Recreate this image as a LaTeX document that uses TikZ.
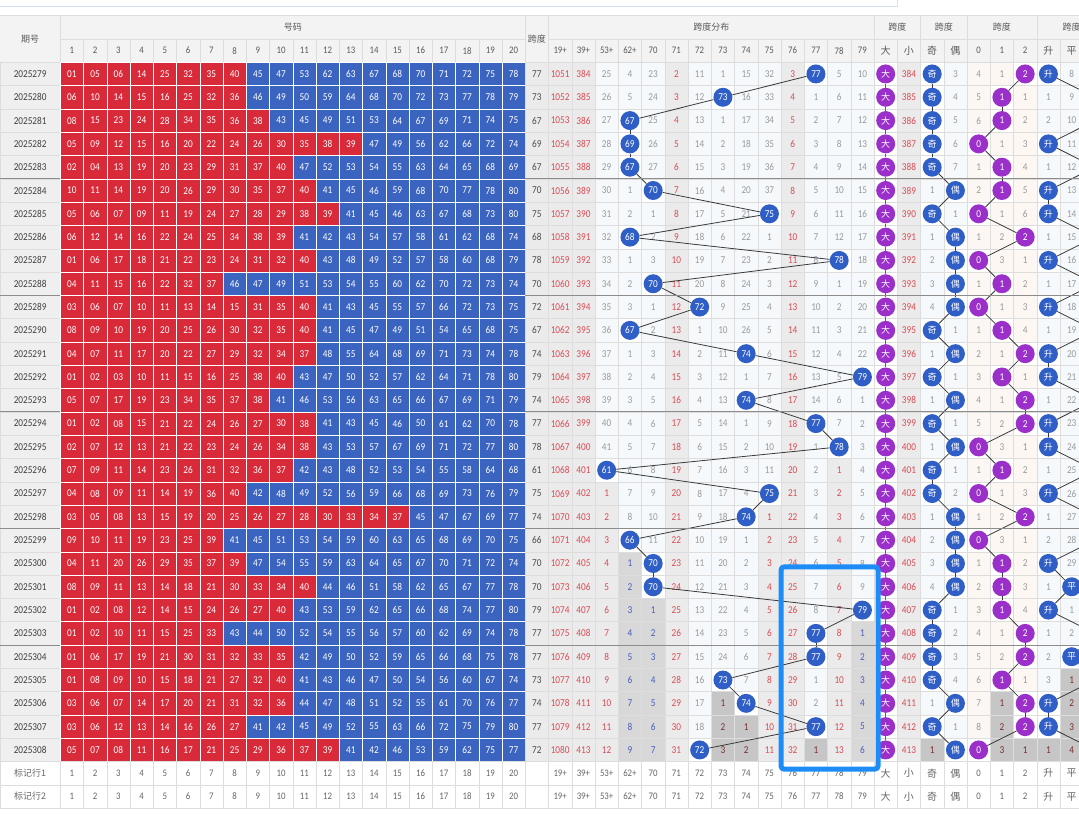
\documentclass[tikz,border=0pt]{standalone}
\usepackage{fontspec}
\setmainfont{Carlito}[FakeStretch=0.88]
\newfontfamily\cjk{Noto Sans CJK SC}
\usepackage{tikz}
\usetikzlibrary{positioning}

\definecolor{lored}{HTML}{D92A3A}
\definecolor{hiblue}{HTML}{3B64C0}
\definecolor{ballblue}{HTML}{2E5EC6}
\definecolor{ballpurple}{HTML}{9A2FC9}
\definecolor{hottext}{HTML}{DB4B55}
\definecolor{hotbg}{HTML}{EBEBEB}
\definecolor{cooltext}{HTML}{4A5CC0}
\definecolor{coolbg}{HTML}{D8D8D8}
\definecolor{deeptext}{HTML}{7A2E2E}
\definecolor{deepbg}{HTML}{C6C6C6}
\definecolor{plaintext}{HTML}{9A9A9A}
\definecolor{plainbg}{HTML}{F6F9FC}
\definecolor{warmbg}{HTML}{FDF7F3}
\definecolor{gridline}{HTML}{DDDDDD}
\definecolor{headbg}{HTML}{F3F3F3}
\definecolor{headtext}{HTML}{5A5A5A}
\definecolor{perbg}{HTML}{EFEFEF}
\definecolor{sepline}{HTML}{8C8C8C}
\definecolor{frameblue}{HTML}{1E8CF7}
\definecolor{topline}{HTML}{D3E2EE}
\definecolor{linkgray}{HTML}{3A3A3A}

\tikzset{
  cell/.style={rectangle, minimum width=23.25pt, minimum height=23.31pt, inner sep=0pt, outer sep=0pt,
    draw=gridline, line width=0.5pt, font=\fontsize{10.5}{10.5}\selectfont},
  numlo/.style={cell, fill=lored, draw=white, text=white},
  numhi/.style={cell, fill=hiblue, draw=white, text=white},
  misplain/.style={cell, fill=plainbg, text=plaintext},
  miswarm/.style={cell, fill=warmbg, text=plaintext},
  mishot/.style={cell, fill=hotbg, text=hottext},
  miscool/.style={cell, fill=coolbg, text=cooltext},
  misdeep/.style={cell, fill=deepbg, text=deeptext},
  hitcell/.style={cell, fill=white},
  kdcell/.style={cell, fill=hotbg, text=black!70},
  percell/.style={cell, minimum width=60.3pt, fill=perbg, text=black!75},
  footcell/.style={cell, fill=white, text=black!60, font=\fontsize{10}{10}\selectfont},
  headtxt/.style={text=headtext, inner sep=0pt, font=\fontsize{10}{10}\selectfont},
  ballb/.style={circle, fill=ballblue, text=white, minimum size=19pt, inner sep=0pt,
    font=\fontsize{10.5}{10.5}\selectfont},
  ballp/.style={ballb, fill=ballpurple},
  linkline/.style={draw=linkgray, line width=0.8pt},
  plinkline/.style={draw=ballpurple, line width=0.8pt}
}

\def\sublist{22/19+,23/39+,24/53+,25/62+,26/70,27/71,28/72,29/73,30/74,31/75,32/76,33/77,34/78,35/79,
  36/{\cjk 大},37/{\cjk 小},38/{\cjk 奇},39/{\cjk 偶},40/0,41/1,42/2,43/{\cjk 升},44/{\cjk 平}}

\begin{document}
\begin{tikzpicture}[x=1pt,y=-1pt]
  \useasboundingbox (0,0) rectangle (1079,814);
  \clip (0,0) rectangle (1079,814);
  \fill[white] (0,0) rectangle (1079,814);
  \draw[topline, line width=1pt] (0,6) -- (897,6) -- (897,-2);

  \begin{scope}[shift={(60.3,62.3)}, x=23.25pt, y=-23.31pt]
    \fill[headbg] (-2.594,-2) rectangle (45,0);
    \draw[gridline] (-2.594,-2) -- (45,-2) (0,-1) -- (20,-1) (21,-1) -- (45,-1) (-2.594,0) -- (45,0);
    \foreach \x in {0,20,21,35,37,39,42} \draw[gridline] (\x,-2) -- (\x,0);
    \foreach \x in {1,...,44} \draw[gridline] (\x,-1) -- (\x,0);

    \node[headtxt, font=\cjk\fontsize{9}{9}\selectfont] (h0) at (-1.297,-1) {期号};
    \node[headtxt, font=\cjk\fontsize{9}{9}\selectfont] (hnum) at (10,-1.5) {号码};
    \node[headtxt, font=\cjk\fontsize{9}{9}\selectfont] (hkd) at (20.5,-1) {跨度};
    \node[headtxt, font=\cjk\fontsize{9}{9}\selectfont] (hdist) at (28,-1.5) {跨度分布};
    \foreach \x [count=\i] in {36,38,40.5,43.5}
      \node[headtxt, font=\cjk\fontsize{9}{9}\selectfont] (hg\i) at (\x,-1.5) {跨度};
    \foreach \k in {1,...,20} \node[headtxt] (h\k) at (\k-0.5,-0.5) {\k};
    \foreach \k/\t in \sublist \node[headtxt] (h\k) at (\k-0.5,-0.5) {\t};

    \foreach \row [count=\r] in {
      {01,05,06,14,25,32,35,40,45,47,53,62,63,67,68,70,71,72,75,78},
      {06,10,14,15,16,25,32,36,46,49,50,59,64,68,70,72,73,77,78,79},
      {08,15,23,24,28,34,35,36,38,43,45,49,51,53,64,67,69,71,74,75},
      {05,09,12,15,16,20,22,24,26,30,35,38,39,47,49,56,62,66,72,74},
      {02,04,13,19,20,23,29,31,37,40,47,52,53,54,55,63,64,65,68,69},
      {10,11,14,19,20,26,29,30,35,37,40,41,45,46,59,68,70,77,78,80},
      {05,06,07,09,11,19,24,27,28,29,38,39,41,45,46,63,67,68,73,80},
      {06,12,14,16,22,24,25,34,38,39,41,42,43,54,57,58,61,62,68,74},
      {01,06,17,18,21,22,23,24,31,32,40,43,48,49,52,57,58,60,68,79},
      {04,11,15,16,22,32,37,46,47,49,51,53,54,55,60,62,70,72,73,74},
      {03,06,07,10,11,13,14,15,31,35,40,41,43,45,55,57,66,72,73,75},
      {08,09,10,19,20,25,26,30,32,35,40,41,45,47,49,51,54,65,68,75},
      {04,07,11,17,20,22,27,29,32,34,37,48,55,64,68,69,71,73,74,78},
      {01,02,03,10,11,15,16,25,38,40,43,47,50,52,57,62,64,71,78,80},
      {05,07,17,19,23,34,35,37,38,41,46,53,56,63,65,66,67,69,71,79},
      {01,02,08,15,21,22,24,26,27,30,38,41,43,45,46,50,61,62,70,78},
      {02,07,12,13,21,22,23,24,26,34,38,43,53,57,67,69,71,72,77,80},
      {07,09,11,14,23,26,31,32,36,37,42,43,48,52,53,54,55,58,64,68},
      {04,08,09,11,14,19,36,40,42,48,49,52,56,59,66,68,69,73,76,79},
      {03,05,08,13,15,19,20,25,26,27,28,30,33,34,37,45,47,67,69,77},
      {09,10,11,19,23,25,39,41,45,51,53,54,59,60,63,65,68,69,70,75},
      {04,11,20,26,29,35,37,39,47,54,55,59,63,64,65,67,70,71,72,74},
      {08,09,11,13,14,18,21,30,33,34,40,44,46,51,58,62,65,67,77,78},
      {01,02,08,12,14,15,24,26,27,40,43,53,59,62,65,66,68,74,77,80},
      {01,02,10,11,15,25,33,43,44,50,52,54,55,56,57,60,62,69,74,78},
      {01,06,17,19,21,30,31,32,33,35,42,49,50,52,59,65,66,68,75,78},
      {01,08,09,10,15,18,21,27,32,40,41,43,46,47,50,54,56,60,67,74},
      {03,06,07,14,17,20,21,31,32,36,44,47,48,51,52,55,61,70,76,77},
      {03,06,12,13,14,16,26,27,41,42,45,49,52,55,63,66,72,75,79,80},
      {05,07,08,11,16,17,21,25,29,36,37,39,41,42,46,53,59,62,75,77}} {
      \node[percell] (q\r) at (-1.297,\r-0.5) {\the\numexpr2025278+\r\relax};
      \foreach \v [count=\k] in \row {
        \ifnum\v<41 \def\cellsty{numlo}\else\def\cellsty{numhi}\fi
        \node[\cellsty] (n\r-\k) at (\k-0.5,\r-0.5) {\v};
      }
    }

    \foreach \k/\m/\f/\y in {22/1050/1/mishot, 23/383/1/mishot, 24/24/19/mishot, 25/3/22/miscool,
        26/22/24/miscool, 27/1/1/mishot, 28/10/99/misplain, 29/0/28/misdeep, 30/14/29/misdeep,
        31/31/20/mishot, 32/2/1/mishot, 33/0/30/misdeep, 34/4/18/mishot, 35/9/25/miscool,
        36/0/99/misplain, 37/383/1/mishot, 38/0/30/misdeep, 39/2/99/misplain, 40/3/99/miswarm,
        41/0/28/misdeep, 42/0/30/misdeep, 43/0/30/misdeep, 44/7/27/misdeep} {
      \expandafter\xdef\csname ms\k\endcsname{\m}
      \expandafter\xdef\csname fr\k\endcsname{\f}
      \expandafter\xdef\csname sy\k\endcsname{\y}
    }
    \gdef\lastspan{0}

    \foreach \s [count=\r] in {77,73,67,69,67,70,75,68,78,70,72,67,74,79,74,
                                77,78,61,75,74,66,70,70,79,77,77,73,74,77,72} {
      \ifnum\s<62 \def\kspan{24}\else\ifnum\s<70 \def\kspan{25}\else\edef\kspan{\the\numexpr\s-44\relax}\fi\fi
      \ifodd\s \def\kpar{38}\else\def\kpar{39}\fi
      \pgfmathtruncatemacro\kmod{40+mod(\s,3)}
      \ifnum\s>\lastspan\relax \def\ktrd{43}\else\ifnum\s=\lastspan\relax \def\ktrd{44}\else\def\ktrd{45}\fi\fi
      \node[kdcell] (kd\r) at (20.5,\r-0.5) {\s};
      \ifnum\ktrd=45 \coordinate (t\r) at (44.5,\r-0.5);\fi
      \foreach \k in {22,...,44} {
        \def\ishit{0}
        \ifnum\k=\kspan\relax \def\ishit{1}\fi
        \ifnum\k=36\relax \def\ishit{1}\fi
        \ifnum\k=\kpar\relax \def\ishit{1}\fi
        \ifnum\k=\kmod\relax \def\ishit{1}\fi
        \ifnum\k=\ktrd\relax \def\ishit{1}\fi
        \ifnum\ishit=1
          \expandafter\xdef\csname ms\k\endcsname{0}
          \node[hitcell] (c\r-\k) at (\k-0.5,\r-0.5) {};
          \ifnum\k<36
            \node[ballb] (s\r) at (\k-0.5,\r-0.5) {\s};
          \else
            \ifcase\numexpr\k-36\relax
              \node[ballp] (b\r) at (\k-0.5,\r-0.5) {\cjk\fontsize{9}{9}\selectfont 大};
            \or
            \or \node[ballb] (p\r) at (\k-0.5,\r-0.5) {\cjk\fontsize{9}{9}\selectfont 奇};
            \or \node[ballb] (p\r) at (\k-0.5,\r-0.5) {\cjk\fontsize{9}{9}\selectfont 偶};
            \or \node[ballp] (m\r) at (\k-0.5,\r-0.5) {0};
            \or \node[ballp] (m\r) at (\k-0.5,\r-0.5) {1};
            \or \node[ballp] (m\r) at (\k-0.5,\r-0.5) {2};
            \or \node[ballb] (t\r) at (\k-0.5,\r-0.5) {\cjk\fontsize{9}{9}\selectfont 升};
            \or \node[ballb] (t\r) at (\k-0.5,\r-0.5) {\cjk\fontsize{9}{9}\selectfont 平};
            \fi
          \fi
        \else
          \expandafter\xdef\csname ms\k\endcsname{\the\numexpr\csname ms\k\endcsname+1\relax}
          \ifnum\r<\csname fr\k\endcsname\relax
            \def\cellsty{misplain}
            \ifnum\k>39 \ifnum\k<43 \def\cellsty{miswarm}\fi\fi
          \else
            \edef\cellsty{\csname sy\k\endcsname}
          \fi
          \node[\cellsty] (c\r-\k) at (\k-0.5,\r-0.5) {\csname ms\k\endcsname};
        \fi
      }
      \xdef\lastspan{\s}
    }

    \foreach \f in {1,2} {
      \node[percell, fill=white, text=black!60, font=\cjk\fontsize{9}{9}\selectfont] (f\f) at (-1.297,29.5+\f) {标记行\f};
      \foreach \k in {1,...,20} \node[footcell] (f\f-\k) at (\k-0.5,29.5+\f) {\k};
      \node[footcell] (f\f-21) at (20.5,29.5+\f) {};
      \foreach \k/\t in \sublist \node[footcell] (f\f-\k) at (\k-0.5,29.5+\f) {\t};
    }

    \foreach \r [remember=\r as \q (initially 1)] in {2,...,30} {
      \draw[linkline] (s\q) -- (s\r);
      \draw[plinkline] (b\q) -- (b\r);
      \draw[linkline] (p\q) -- (p\r);
      \draw[linkline] (m\q) -- (m\r);
      \draw[linkline] (t\q) -- (t\r);
    }

    \foreach \y in {5,10,15,20,25} {
      \draw[sepline, line width=1pt] (-2.594,\y) -- (0,\y);
      \draw[sepline, line width=1pt] (20,\y) -- (45,\y);
    }

    \draw[frameblue, line width=5pt, rounded corners=3pt] (31.0,21.65) rectangle (35.17,30.32);
  \end{scope}
\end{tikzpicture}
\end{document}
